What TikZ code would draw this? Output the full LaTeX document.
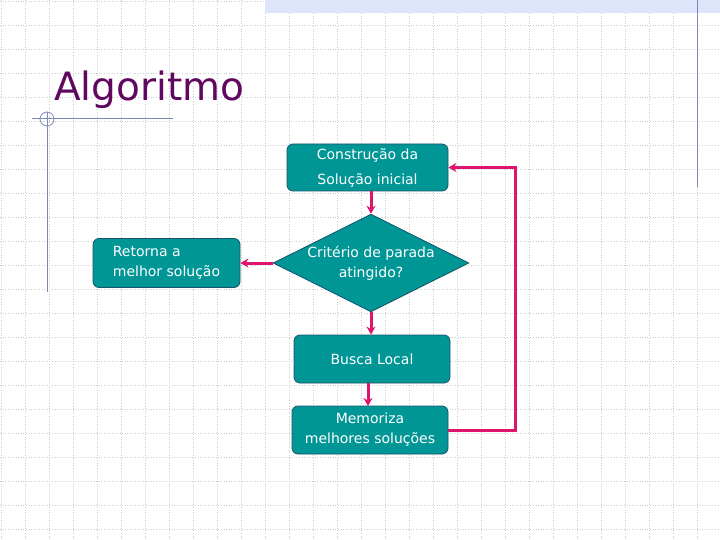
\documentclass[tikz,border=0pt]{standalone}
\usepackage{fontspec}
\setmainfont{DejaVu Sans}
\usepackage{xcolor}
\usepackage{tikz}
\usetikzlibrary{arrows.meta,shapes.geometric}
\definecolor{boxfill}{RGB}{0,150,150}
\definecolor{boxedge}{RGB}{25,85,105}
\definecolor{linkpink}{RGB}{222,20,110}
\definecolor{titlepurple}{RGB}{96,8,96}
\definecolor{gridgray}{RGB}{205,205,205}
\definecolor{decoline}{RGB}{125,138,185}
\definecolor{barblue}{RGB}{222,229,250}

\begin{document}
\begin{tikzpicture}[x=1pt,y=-1pt,>={Stealth[length=8pt,width=9pt]},every node/.style={align=center,text=white,font=\fontsize{14}{20}\selectfont},box/.style={draw=boxedge,fill=boxfill,line width=0.8pt,rounded corners=6pt,inner sep=2pt},cond/.style={diamond,aspect=2,draw=boxedge,fill=boxfill,line width=0.8pt,inner sep=0pt,minimum width=193pt,minimum height=96pt},link/.style={->,draw=linkpink,line width=3pt}]
\useasboundingbox (0,0) rectangle (720,540);
\fill[white] (0,0) rectangle (720,540);
% slide background
\foreach \k in {0,...,29} \draw[gridgray,dotted,line width=0.6pt] (24*\k+1,0)--(24*\k+1,540);
\foreach \k in {0,...,22} \draw[gridgray,dotted,line width=0.6pt] (0,24*\k+1)--(720,24*\k+1);
\fill[barblue] (265,0) rectangle (720,13);
\draw[decoline,line width=1pt] (697,0)--(697,187);
\draw[decoline,line width=1pt] (32,119)--(173,119);
\draw[decoline,line width=1pt] (47,112)--(47,292);
\draw[decoline,line width=0.8pt] (47,119) circle (7);
\node[anchor=base west,inner sep=0pt,text=titlepurple,font=\fontsize{39}{40}\selectfont] (title) at (54,101) {Algoritmo};
% flowchart
\node[box,minimum width=161pt,minimum height=47pt,font=\fontsize{14}{25}\selectfont] (ini) at (367.5,167.5) {Construção da\\Solução inicial};
\node[cond] (crit) at (371,263) {Critério de parada\\atingido?};
\node[box,minimum width=147pt,minimum height=49pt,align=left] (ret) at (166.5,263) {Retorna a\\melhor solução};
\node[box,minimum width=156pt,minimum height=48pt] (busca) at (372,359) {Busca Local};
\node[box,minimum width=156pt,minimum height=48pt] (mem) at (370,430) {Memoriza\\melhores soluções};
\draw[link] (ini.south -| crit.north)--(crit.north);\draw[link] (crit.west)--(ret.east);
\draw[link] (crit.south)--(crit.south |- busca.north);\draw[link] (368,383)--(368,406);
\draw[link] (mem.east)--++(67,0)|-(ini.east);
\end{tikzpicture}
\end{document}
